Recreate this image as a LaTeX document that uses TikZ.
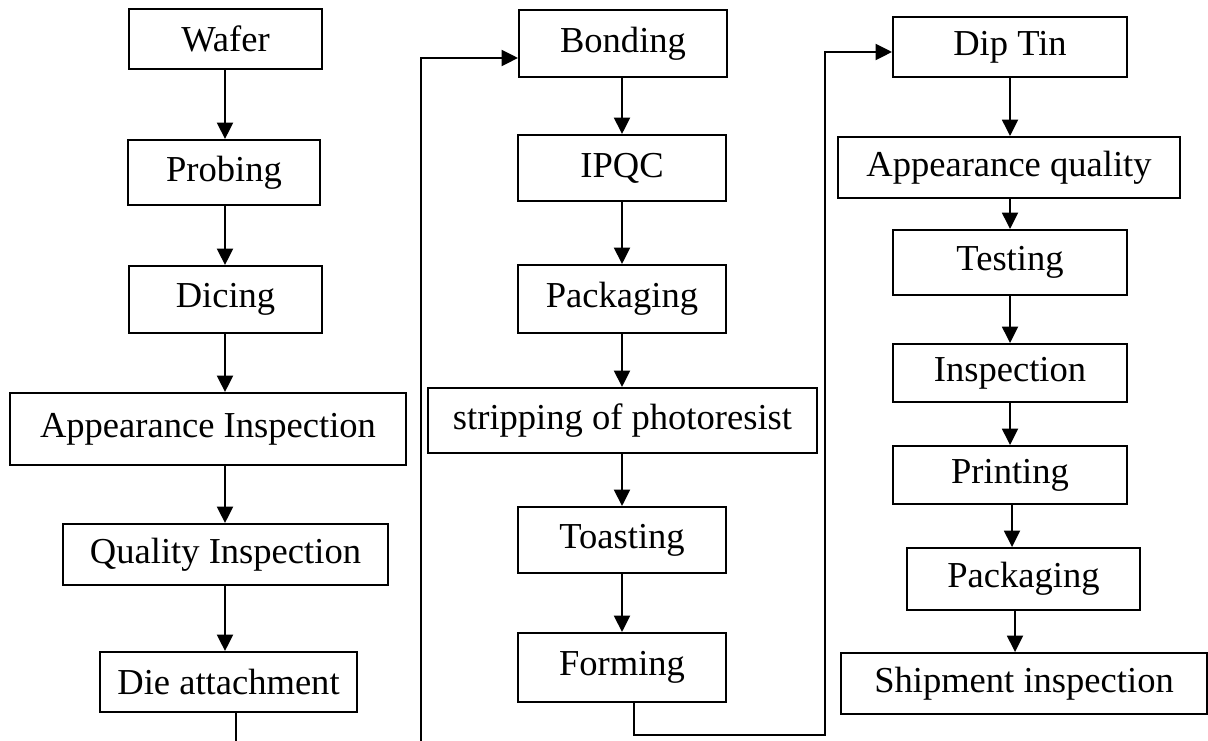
\documentclass[tikz,border=0pt]{standalone}
\usepackage{fontspec}
\setmainfont{Liberation Serif}
\usetikzlibrary{arrows.meta, positioning, calc}

\begin{document}
\begin{tikzpicture}[
  stepbox/.style={draw, line width=1.1pt, inner sep=0pt, font=\fontsize{20.8}{25}\selectfont},
  flow/.style={-{Triangle[length=0.33cm, width=0.32cm]}, line width=1.1pt}
]
  \useasboundingbox (0,0) rectangle (24.16,14.8);
  \clip (0,0) rectangle (24.16,14.8);

  % Column x positions of the arrows
  \coordinate (colA) at (4.50, 0);
  \coordinate (colB) at (12.44, 0);
  \coordinate (colC) at (20.20, 0);

  % First column
  \node[stepbox, minimum width=3.86cm, minimum height=1.20cm] (wafer) at (4.51, 14.02) {Wafer};
  \node[stepbox, minimum width=3.84cm, minimum height=1.30cm] (probing) at (4.48, 11.35) {Probing};
  \node[stepbox, minimum width=3.86cm, minimum height=1.34cm] (dicing) at (4.51, 8.81) {Dicing};
  \node[stepbox, minimum width=7.92cm, minimum height=1.44cm] (appins) at (4.16, 6.22) {Appearance Inspection};
  \node[stepbox, minimum width=6.50cm, minimum height=1.22cm] (qualins) at (4.51, 3.71) {Quality Inspection};
  \node[stepbox, minimum width=5.14cm, minimum height=1.20cm] (dieatt) at (4.57, 1.16) {Die attachment};

  % Second column
  \node[stepbox, minimum width=4.16cm, minimum height=1.34cm] (bonding) at (12.46, 13.93) {Bonding};
  \node[stepbox, minimum width=4.16cm, minimum height=1.32cm] (ipqc) at (12.44, 11.44) {IPQC};
  \node[stepbox, minimum width=4.16cm, minimum height=1.36cm] (packA) at (12.44, 8.82) {Packaging};
  \node[stepbox, minimum width=7.78cm, minimum height=1.30cm] (strip) at (12.45, 6.39) {stripping of photoresist};
  \node[stepbox, minimum width=4.16cm, minimum height=1.32cm] (toast) at (12.44, 4.00) {Toasting};
  \node[stepbox, minimum width=4.16cm, minimum height=1.38cm] (forming) at (12.44, 1.45) {Forming};

  % Third column
  \node[stepbox, minimum width=4.68cm, minimum height=1.20cm] (diptin) at (20.20, 13.86) {Dip Tin};
  \node[stepbox, minimum width=6.84cm, minimum height=1.22cm] (appqual) at (20.18, 11.45) {Appearance quality};
  \node[stepbox, minimum width=4.68cm, minimum height=1.30cm] (testing) at (20.20, 9.55) {Testing};
  \node[stepbox, minimum width=4.68cm, minimum height=1.16cm] (inspect) at (20.20, 7.34) {Inspection};
  \node[stepbox, minimum width=4.68cm, minimum height=1.16cm] (printing) at (20.20, 5.30) {Printing};
  \node[stepbox, minimum width=4.66cm, minimum height=1.24cm] (packB) at (20.47, 3.22) {Packaging};
  \node[stepbox, minimum width=7.32cm, minimum height=1.22cm] (shipment) at (20.48, 1.13) {Shipment inspection};

  % Arrows down the first column
  \draw[flow] (wafer.south -| colA) -- (probing.north -| colA);
  \draw[flow] (probing.south -| colA) -- (dicing.north -| colA);
  \draw[flow] (dicing.south -| colA) -- (appins.north -| colA);
  \draw[flow] (appins.south -| colA) -- (qualins.north -| colA);
  \draw[flow] (qualins.south -| colA) -- (dieatt.north -| colA);

  % Arrows down the second column
  \draw[flow] (bonding.south -| colB) -- (ipqc.north -| colB);
  \draw[flow] (ipqc.south -| colB) -- (packA.north -| colB);
  \draw[flow] (packA.south -| colB) -- (strip.north -| colB);
  \draw[flow] (strip.south -| colB) -- (toast.north -| colB);
  \draw[flow] (toast.south -| colB) -- (forming.north -| colB);

  % Arrows down the third column
  \draw[flow] (diptin.south -| colC) -- (appqual.north -| colC);
  \draw[flow] (appqual.south -| colC) -- (testing.north -| colC);
  \draw[flow] (testing.south -| colC) -- (inspect.north -| colC);
  \draw[flow] (inspect.south -| colC) -- (printing.north -| colC);
  \draw[flow] ([xshift=0.04cm]printing.south -| colC) -- ([xshift=0.04cm]packB.north -| colC);
  \draw[flow] ([xshift=0.10cm]packB.south -| colC) -- ([xshift=0.10cm]shipment.north -| colC);

  % Links between the columns
  \coordinate (dadown) at (4.72, -0.5);
  \coordinate (bdleft) at (8.42, 13.64);
  \draw[flow] (dieatt.south -| dadown) -- (dadown) -| (bdleft) -- (bdleft -| bonding.west);

  \coordinate (fmdown) at (12.68, 0.10);
  \coordinate (dtleft) at (16.50, 13.76);
  \draw[flow] (forming.south -| fmdown) -- (fmdown) -| (dtleft) -- (dtleft -| diptin.west);
\end{tikzpicture}
\end{document}
